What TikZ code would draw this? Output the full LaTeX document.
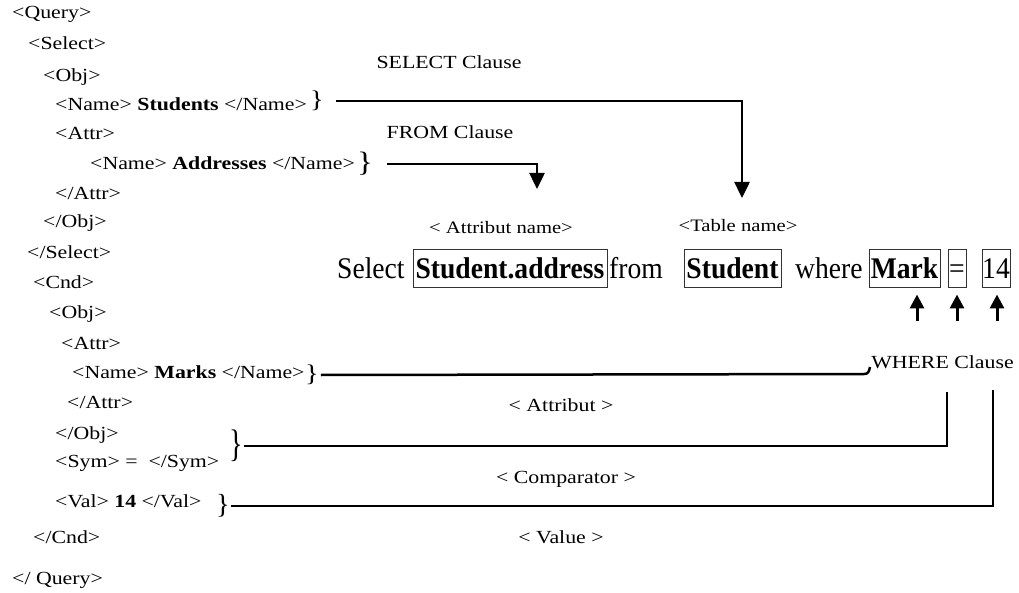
\documentclass[tikz,border=0pt]{standalone}
\usepackage{fontspec}
\setmainfont{Liberation Serif}
\newfontfamily\widefont{Liberation Serif}[FakeStretch=1.18]
\newfontfamily\stmtfont{Liberation Serif}[FakeStretch=0.92]
\usetikzlibrary{arrows.meta}

\tikzset{
  xml/.style={anchor=base west, inner sep=0pt, font=\widefont\fontsize{18.5}{20}\selectfont},
  lbl/.style={anchor=base, inner sep=0pt, font=\widefont\fontsize{18.5}{20}\selectfont},
  brc/.style={anchor=west, inner sep=0pt, font=\widefont\fontsize{24}{26}\selectfont},
  conn/.style={line width=2.5pt, line join=miter},
  downtip/.style={-{Triangle[width=15pt,length=16pt]}},
  uparrow/.style={line width=3pt, -{Triangle[width=14pt,length=14pt]}, shorten >=6pt},
  stmt/.style={anchor=base west, inner sep=0pt, font=\stmtfont\fontsize{30}{32}\selectfont},
  sbox/.style={stmt, anchor=base, draw=black!80, line width=1pt, inner xsep=0pt, inner ysep=0pt,
               text height=29pt, text depth=9pt, align=center},
}

\begin{document}
\begin{tikzpicture}[x=1pt, y=-1pt]
\useasboundingbox (0,0) rectangle (1019,593);

% XML query tree
\node[xml] (xQuery)  at (12,19)  {<Query>};
\node[xml] (xSel)    at (28,50)  {<Select>};
\node[xml] (xObj1)   at (43,82)  {<Obj>};
\node[xml] (xName1)  at (55,111) {<Name> \textbf{Students} </Name>};
\node[xml] (xAttr1)  at (55,140) {<Attr>};
\node[xml] (xName2)  at (90,170) {<Name> \textbf{Addresses} </Name>};
\node[xml] (xAttr1c) at (55,200) {</Attr>};
\node[xml] (xObj1c)  at (43,228) {</Obj>};
\node[xml] (xSelc)   at (27,259) {</Select>};
\node[xml] (xCnd)    at (33,289) {<Cnd>};
\node[xml] (xObj2)   at (49,319) {<Obj>};
\node[xml] (xAttr2)  at (61,349) {<Attr>};
\node[xml] (xName3)  at (72,378) {<Name> \textbf{Marks} </Name>};
\node[xml] (xAttr2c) at (67,408) {</Attr>};
\node[xml] (xObj2c)  at (55,439) {</Obj>};
\node[xml] (xSym)    at (55,467) {<Sym> = \ </Sym>};
\node[xml] (xVal)    at (55,507) {<Val> \textbf{14} </Val>};
\node[xml] (xCndc)   at (33,543) {</Cnd>};
\node[xml] (xQueryc) at (12,584) {</ Query>};

% braces grouping the tree elements
\node[brc] (bStud)  at (310,101) {\}};
\node[brc, font=\widefont\fontsize{28}{30}\selectfont] (bAddr) at (357,164) {\}};
\node[brc] (bMarks) at (305,375) {\}};
\node[brc] (bSym)   at (229,446) {\scalebox{1}[1.6]{\}}};
\node[brc] (bVal)   at (216,506) {\scalebox{1}[1.15]{\}}};

% clause labels
\node[lbl] (lSel)      at (449,69)  {SELECT Clause};
\node[lbl] (lFrom)     at (450,139) {FROM Clause};
\node[lbl, font=\widefont\fontsize{17.5}{20}\selectfont] (lAttrName) at (501,234) {< Attribut name>};
\node[lbl, font=\widefont\fontsize{17.5}{20}\selectfont] (lTable)    at (738,232) {<Table name>};

% SQL statement
\node[stmt] (sSelect) at (337,279) {Select};
\node[sbox, minimum width=194pt] (sAttr)  at (510,279)   {\textbf{Student.address}};
\node[stmt] (sFrom)   at (609,279) {from};
\node[sbox, minimum width=97pt]  (sTable) at (732.5,279) {\textbf{Student}};
\node[stmt] (sWhere)  at (795,279) {where};
\node[sbox, minimum width=71pt]  (sMark)  at (904.5,279) {\textbf{Mark}};
\node[sbox, minimum width=18pt]  (sEq)    at (957,279)   {=};
\node[sbox, minimum width=28pt]  (sVal)   at (996,279)   {14};

% SELECT and FROM connectors
\coordinate (tTable) at (742,198);
\coordinate (tAttr)  at (537,189);
\draw[conn, downtip] ([xshift=12pt]bStud.east) -| (tTable);
\draw[conn, downtip] ([xshift=14pt]bAddr.east) -| (tAttr);

% WHERE clause pointers
\coordinate (u1) at (917,321);
\coordinate (u2) at (957,321);
\coordinate (u3) at (997,321);
\draw[uparrow] (u1) -- (u1 |- sMark.south);
\draw[uparrow] (u2) -- (u2 |- sEq.south);
\draw[uparrow] (u3) -- (u3 |- sVal.south);

\node[lbl, font=\widefont\fontsize{18.5}{20}\selectfont] (lWhere) at (942.5,368) {WHERE Clause};

% WHERE connectors
\coordinate (wHook)   at (870,367);
\coordinate (eqFoot)  at (947,392);
\coordinate (valFoot) at (993,390);
\draw[conn] ([xshift=2pt]bMarks.east) -- (864,374) .. controls (868,374) and (869,372) .. (wHook);
\draw[conn] ([xshift=1pt]bSym.east) -| (eqFoot);
\draw[conn] ([xshift=1pt]bVal.east) -| (valFoot);

% element role labels
\node[lbl] (lAtt) at (561,411) {< Attribut >};
\node[lbl] (lCmp) at (566,483) {< Comparator >};
\node[lbl] (lVal) at (561,543) {< Value >};
\end{tikzpicture}
\end{document}
